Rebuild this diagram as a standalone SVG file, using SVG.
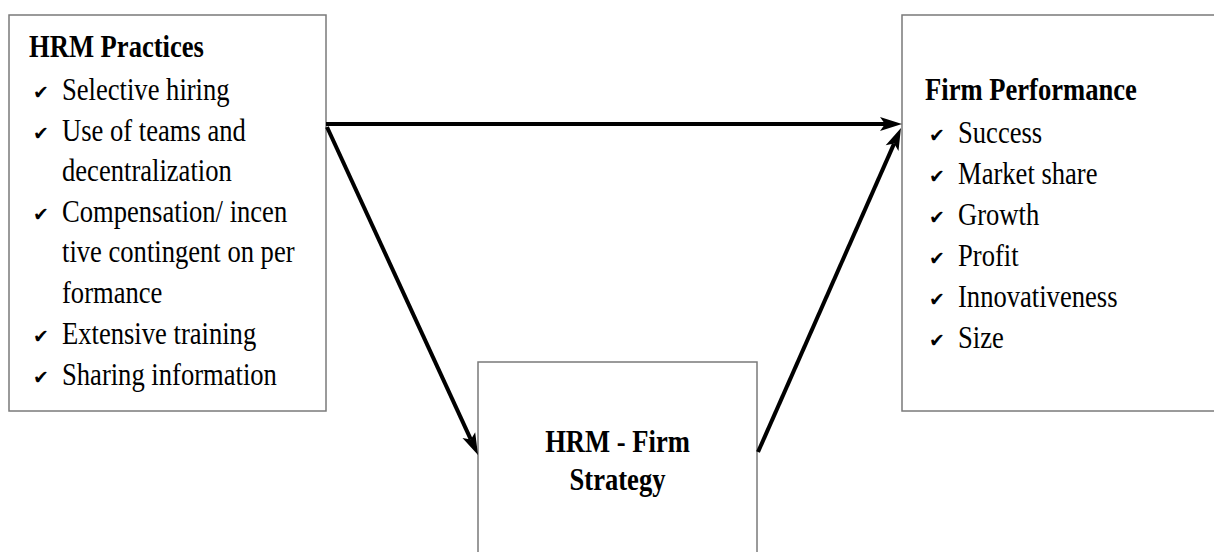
<svg xmlns="http://www.w3.org/2000/svg" width="1214" height="552" viewBox="0 0 1214 552">
<style>
.box{fill:#fff;stroke:#7a7a7a;stroke-width:1.5}
.t{font-family:"Liberation Serif","Times New Roman",serif;font-size:26.6px;fill:#000}
.b{font-weight:bold}
.ck{font-family:"DejaVu Sans",sans-serif;font-size:19px;fill:#000}
.arr{fill:none;stroke:#000;stroke-width:4;marker-end:url(#ah)}
</style>
<defs>
<marker id="ah" markerUnits="userSpaceOnUse" markerWidth="30" markerHeight="20" viewBox="-2 -10 30 20" refX="5" refY="0" orient="auto">
<path d="M0,-7 L22,0 L0,7 L5,0 Z" fill="#000"/>
</marker>
</defs>
<rect width="1214" height="552" fill="#fff"/>
<g id="hrm-practices">
<rect class="box" x="9" y="15" width="317" height="396"/>
<text class="t b" transform="translate(29,57) scale(1,1.22)">HRM Practices</text>
<text class="ck" x="33" y="99">✔</text>
<text class="t" transform="translate(62,100) scale(1,1.22)">Selective hiring</text>
<text class="ck" x="33" y="140">✔</text>
<text class="t" transform="translate(62,141) scale(1,1.22)">Use of teams and</text>
<text class="t" transform="translate(62,181) scale(1,1.22)">decentralization</text>
<text class="ck" x="33" y="221">✔</text>
<text class="t" transform="translate(62,222) scale(1,1.22)">Compensation/ incen</text>
<text class="t" transform="translate(62,262) scale(1,1.22)">tive contingent on per</text>
<text class="t" transform="translate(62,303) scale(1,1.22)">formance</text>
<text class="ck" x="33" y="343">✔</text>
<text class="t" transform="translate(62,344) scale(1,1.22)">Extensive training</text>
<text class="ck" x="33" y="384">✔</text>
<text class="t" transform="translate(62,385) scale(1,1.22)">Sharing information</text>
</g>
<g id="firm-performance">
<rect class="box" x="902" y="15" width="330" height="396"/>
<text class="t b" transform="translate(925,100) scale(1,1.22)">Firm Performance</text>
<text class="ck" x="929" y="142">✔</text>
<text class="t" transform="translate(958,143) scale(1,1.22)">Success</text>
<text class="ck" x="929" y="183">✔</text>
<text class="t" transform="translate(958,184) scale(1,1.22)">Market share</text>
<text class="ck" x="929" y="224">✔</text>
<text class="t" transform="translate(958,225) scale(1,1.22)">Growth</text>
<text class="ck" x="929" y="265">✔</text>
<text class="t" transform="translate(958,266) scale(1,1.22)">Profit</text>
<text class="ck" x="929" y="306">✔</text>
<text class="t" transform="translate(958,307) scale(1,1.22)">Innovativeness</text>
<text class="ck" x="929" y="347">✔</text>
<text class="t" transform="translate(958,348) scale(1,1.22)">Size</text>
</g>
<g id="hrm-firm-strategy">
<rect class="box" x="478" y="362" width="279" height="220"/>
<text class="t b" text-anchor="middle" transform="translate(617.5,452) scale(1,1.22)">HRM - Firm</text>
<text class="t b" text-anchor="middle" transform="translate(617.5,490) scale(1,1.22)">Strategy</text>
</g>
<g id="connectors">
<path class="arr" d="M326,124 L885,124"/>
<path class="arr" d="M327,127 L470.9,439.6"/>
<path class="arr" d="M758,452 L894.1,143.6"/>
</g>
</svg>
